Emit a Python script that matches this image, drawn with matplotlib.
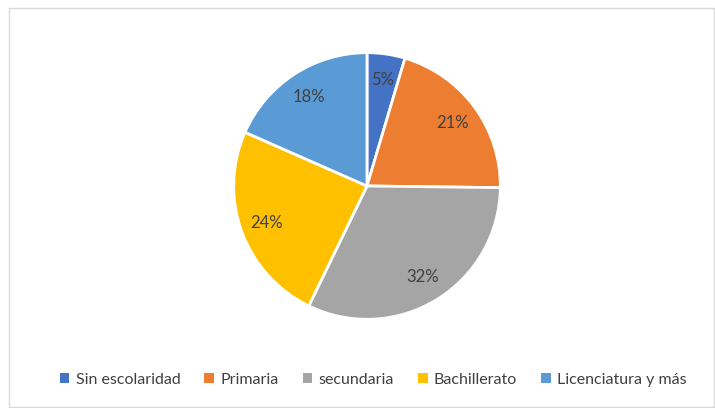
import matplotlib
matplotlib.use("Agg")
import matplotlib.pyplot as plt
from matplotlib.patches import Rectangle, Patch

categories = ["Sin escolaridad", "Primaria", "secundaria", "Bachillerato", "Licenciatura y más"]
values = [4.6, 20.6, 32.0, 24.4, 18.4]
colors = ["#4472C4", "#ED7D31", "#A5A5A5", "#FFC000", "#5B9BD5"]

plt.rcParams["font.family"] = ["Lato", "DejaVu Sans"]

fig = plt.figure(figsize=(7.15, 4.08), dpi=100)
fig.patch.set_facecolor("white")

# chart border like the office frame
fig.patches.append(Rectangle((9 / 715, 1 / 408), 705 / 715, 399 / 408,
                             transform=fig.transFigure, fill=False,
                             edgecolor="#d9d9d9", linewidth=1.0))

ax = fig.add_axes([0.3287, 0.2206, 0.3692, 0.6471])
wedges, texts, autotexts = ax.pie(
    values, colors=colors, startangle=90, counterclock=False,
    autopct=lambda p: f"{p:.0f}%", pctdistance=0.8,
    wedgeprops=dict(edgecolor="white", linewidth=2.0),
    textprops=dict(color="#404040", fontsize=12),
)
ax.set_xlim(-0.99, 0.99)
ax.set_ylim(-0.99, 0.99)
ax.set_aspect("equal")

handles = [Patch(facecolor=c, edgecolor="none") for c in colors]
fig.legend(handles, categories, loc="center", bbox_to_anchor=(0.522, 0.069),
           ncol=5, frameon=False, fontsize=11.5, handlelength=0.6, handleheight=0.6,
           handletextpad=0.4, columnspacing=1.5, labelcolor="#404040")

fig.savefig("out.png", dpi=100)
